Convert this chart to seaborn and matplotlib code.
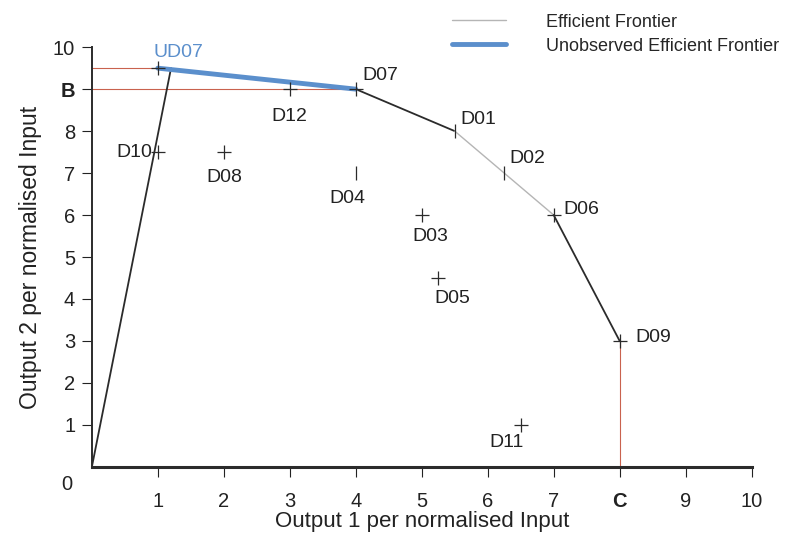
import matplotlib
matplotlib.use("Agg")
import matplotlib.pyplot as plt
import seaborn as sns
import pandas as pd
from matplotlib.lines import Line2D

# Decision making units (DMUs), outputs per normalised input
dmu_names = ["UD07", "D07", "D12", "D10", "D08", "D04", "D01", "D02", "D06", "D09", "D03", "D05", "D11"]
output1 = [1.0, 4.0, 3.0, 1.0, 2.0, 4.0, 5.5, 6.25, 7.0, 8.0, 5.0, 5.25, 6.5]
output2 = [9.5, 9.0, 9.0, 7.5, 7.5, 7.0, 8.0, 7.0, 6.0, 3.0, 6.0, 4.5, 1.0]
marker_kind = ["+", "+", "+", "+", "+", "|", "|", "|", "+", "+", "+", "+", "+"]

# frontier pieces
ray_x = [0, 1.2]
ray_y = [0, 9.5]
unobs_x = [1.0, 4.0]
unobs_y = [9.5, 9.0]
front_dark1_x = [4.0, 5.5]
front_dark1_y = [9.0, 8.0]
front_light_x = [5.5, 6.25, 7.0]
front_light_y = [8.0, 7.0, 6.0]
front_dark2_x = [7.0, 8.0]
front_dark2_y = [6.0, 3.0]

# reference guides to B and C
guide_b_x = [[0, 1.0], [0, 4.0]]
guide_b_y = [[9.5, 9.5], [9.0, 9.0]]
guide_c_x = [8.0, 8.0]
guide_c_y = [0, 3.0]

x_ticks = [1, 2, 3, 4, 5, 6, 7, 8, 9, 10]
x_ticklabels = ["1", "2", "3", "4", "5", "6", "7", "C", "9", "10"]
y_ticks = [1, 2, 3, 4, 5, 6, 7, 8, 9, 10]
y_ticklabels = ["1", "2", "3", "4", "5", "6", "7", "8", "B", "10"]

# label placement (pixel offsets, alignment)
label_pos = {
    "UD07": ((-4, 7), "left", "bottom"),
    "D07": ((7, 5), "left", "bottom"),
    "D12": ((0, -19), "center", "top"),
    "D10": ((-6, 0), "right", "center"),
    "D08": ((0, -17), "center", "top"),
    "D04": ((-8, -17), "center", "top"),
    "D01": ((6, 3), "left", "bottom"),
    "D02": ((5, 6), "left", "bottom"),
    "D06": ((10, 6), "left", "center"),
    "D09": ((16, 3), "left", "center"),
    "D03": ((9, -13), "center", "top"),
    "D05": ((14, -12), "center", "top"),
    "D11": ((-14, -9), "center", "top"),
}

df = pd.DataFrame({"dmu": dmu_names, "out1": output1, "out2": output2, "mk": marker_kind})

sns.set_style("white")
plt.rcParams["font.family"] = ["Liberation Sans", "DejaVu Sans"]

fig = plt.figure(figsize=(7.92, 5.36), dpi=100)
ax = fig.add_axes([0.116, 0.129, 0.833, 0.783])

red = "#c9624e"
dark = "#2b2b2b"
light = "#b5b5b5"
blue = "#5b8fcc"

# guide lines
for gx, gy in zip(guide_b_x, guide_b_y):
    sns.lineplot(x=gx, y=gy, ax=ax, color=red, lw=0.8, sort=False, estimator=None)
sns.lineplot(x=guide_c_x, y=guide_c_y, ax=ax, color=red, lw=0.8, sort=False, estimator=None)

# frontier
sns.lineplot(x=ray_x, y=ray_y, ax=ax, color=dark, lw=1.3, sort=False, estimator=None)
sns.lineplot(x=front_dark1_x, y=front_dark1_y, ax=ax, color=dark, lw=1.3, sort=False, estimator=None)
sns.lineplot(x=front_light_x, y=front_light_y, ax=ax, color=light, lw=1.0, sort=False, estimator=None)
sns.lineplot(x=front_dark2_x, y=front_dark2_y, ax=ax, color=dark, lw=1.3, sort=False, estimator=None)
sns.lineplot(x=unobs_x, y=unobs_y, ax=ax, color=blue, lw=3.5, sort=False, estimator=None)

# DMU points
for mk, sub in df.groupby("mk"):
    sns.scatterplot(data=sub, x="out1", y="out2", ax=ax, marker=mk, color=dark,
                    s=90, linewidth=0.9, zorder=5)

for _, row in df.iterrows():
    off, ha, va = label_pos[row["dmu"]]
    ax.annotate(row["dmu"], (row["out1"], row["out2"]), xytext=off,
                textcoords="offset pixels", ha=ha, va=va, fontsize=14,
                color=blue if row["dmu"] == "UD07" else "#222222")

ax.set_xlim(0, 10)
ax.set_ylim(0, 10)
ax.set_xticks(x_ticks)
ax.set_xticklabels(x_ticklabels)
ax.set_yticks(y_ticks)
ax.set_yticklabels(y_ticklabels)
ax.tick_params(axis="x", bottom=True, direction="out", length=7, width=0.8, pad=11,
               labelsize=14.5, colors="#222222")
ax.tick_params(axis="y", left=True, direction="out", length=7, width=0.8, pad=5,
               labelsize=14.5, colors="#222222")
ax.get_xticklabels()[7].set_fontweight("bold")
ax.get_yticklabels()[8].set_fontweight("bold")
ax.text(-0.38, -0.43, "0", ha="center", va="center", fontsize=14.5, color="#222222", clip_on=False)

for side in ["top", "right"]:
    ax.spines[side].set_visible(False)
ax.spines["left"].set_color(dark)
ax.spines["left"].set_linewidth(1.4)
ax.spines["bottom"].set_color(dark)
ax.spines["bottom"].set_linewidth(2.2)

ax.set_xlabel("Output 1 per normalised Input", fontsize=16, color="#222222", labelpad=0)
ax.set_ylabel("Output 2 per normalised Input", fontsize=16.5, color="#222222", labelpad=8)

handles = [Line2D([], [], color=light, lw=1.0), Line2D([], [], color=blue, lw=3.5)]
fig.legend(handles, ["Efficient Frontier", "Unobserved Efficient Frontier"],
           loc="upper left", bbox_to_anchor=(0.55, 1.005), frameon=False,
           fontsize=13, handlelength=3.0, handletextpad=2.2, labelspacing=0.4)

fig.savefig("out.png", dpi=100, facecolor="white")
